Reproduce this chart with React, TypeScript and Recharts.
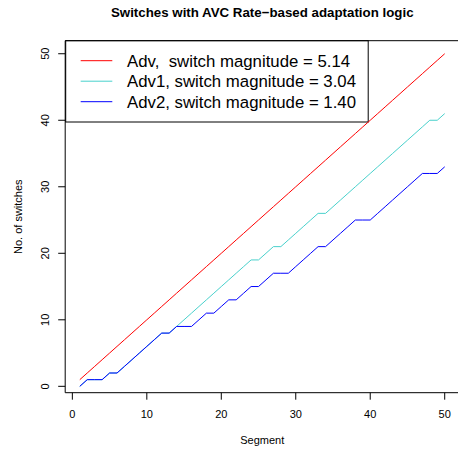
import React from 'react';
import { LineChart, Line, XAxis, YAxis, ReferenceArea, Customized } from 'recharts';

const segments = [1,2,3,4,5,6,7,8,9,10,11,12,13,14,15,16,17,18,19,20,21,22,23,24,25,26,27,28,29,30,31,32,33,34,35,36,37,38,39,40,41,42,43,44,45,46,47,48,49,50];
const adv = [1,2,3,4,5,6,7,8,9,10,11,12,13,14,15,16,17,18,19,20,21,22,23,24,25,26,27,28,29,30,31,32,33,34,35,36,37,38,39,40,41,42,43,44,45,46,47,48,49,50];
const adv1 = [0,1,1,1,2,2,3,4,5,6,7,8,8,9,10,11,12,13,14,15,16,17,18,19,19,20,21,21,22,23,24,25,26,26,27,28,29,30,31,32,33,34,35,36,37,38,39,40,40,41];
const adv2 = [0,1,1,1,2,2,3,4,5,6,7,8,8,9,9,9,10,11,11,12,13,13,14,15,15,16,17,17,17,18,19,20,21,21,22,23,24,25,25,25,26,27,28,29,30,31,32,32,32,33];
const xTicks = [0, 10, 20, 30, 40, 50];
const yTicks = [0, 10, 20, 30, 40, 50];
const legendLabels = ['Adv,  switch magnitude = 5.14', 'Adv1, switch magnitude = 3.04', 'Adv2, switch magnitude = 1.40'];
const colors = ['#FF0000', '#48D1CC', '#0000FF'];

const data = segments.map((s, i) => ({ x: s, adv: adv[i], adv1: adv1[i], adv2: adv2[i] }));

const FONT = '"Liberation Sans", Arial, Helvetica, sans-serif';
const DOMAIN: [number, number] = [-0.96, 51.96];

const YTick = (props: any) => {
  const { y, payload } = props;
  return (
    <text x={49.5} y={y} transform={`rotate(-90, 49.5, ${y})`} textAnchor="middle" fontSize={11} fontFamily={FONT} fill="#000">
      {payload.value}
    </text>
  );
};

const Overlay = () => (
  <g>
    <text x={262.25} y={17.3} textAnchor="middle" fontSize={13.3} fontWeight="bold" fontFamily={FONT} fill="#000">
      Switches with AVC Rate−based adaptation logic
    </text>
    <text x={262.25} y={444} textAnchor="middle" fontSize={11} fontFamily={FONT} fill="#000">Segment</text>
    <text x={22} y={216.7} transform="rotate(-90, 22, 216.7)" textAnchor="middle" fontSize={11} fontFamily={FONT} fill="#000">No. of switches</text>
    <rect x={65.7} y={40.7} width={302.5} height={81.3} fill="#fff" stroke="#000" strokeWidth={1} />
    {legendLabels.map((l, i) => {
      const ly = 60.7 + i * 20.5;
      return (
        <g key={l}>
          <line x1={80.7} x2={112.3} y1={ly} y2={ly} stroke={colors[i]} strokeWidth={1} />
          <text x={127} y={ly + 6.2} fontSize={16.8} fontFamily={FONT} fill="#000" style={{ whiteSpace: 'pre' }} xmlSpace="preserve">{l}</text>
        </g>
      );
    })}
  </g>
);

export default function App() {
  return (
    <div style={{ position: 'absolute', left: 0, top: 0, background: '#fff' }}>
      <LineChart width={458} height={453} data={data} margin={{ top: 40.7, right: -1.3, bottom: 0, left: 0 }}>
        <XAxis
          type="number"
          dataKey="x"
          domain={DOMAIN}
          ticks={xTicks}
          interval={0}
          axisLine={false}
          tickLine={{ stroke: '#000' }}
          tickSize={7}
          tickMargin={10}
          height={60.3}
          tick={{ fontSize: 11, fontFamily: FONT, fill: '#000' }}
          allowDataOverflow
        />
        <YAxis
          type="number"
          domain={DOMAIN}
          ticks={yTicks}
          interval={0}
          axisLine={false}
          tickLine={{ stroke: '#000' }}
          tickSize={7}
          width={65.2}
          tick={<YTick />}
          allowDataOverflow
        />
        <ReferenceArea x1={DOMAIN[0]} x2={DOMAIN[1]} y1={DOMAIN[0]} y2={DOMAIN[1]} fill="none" stroke="#000" strokeWidth={1} ifOverflow="visible" />
        <Line type="linear" dataKey="adv" stroke={colors[0]} strokeWidth={1} dot={false} isAnimationActive={false} />
        <Line type="linear" dataKey="adv1" stroke={colors[1]} strokeWidth={1} dot={false} isAnimationActive={false} />
        <Line type="linear" dataKey="adv2" stroke={colors[2]} strokeWidth={1} dot={false} isAnimationActive={false} />
        <Customized component={Overlay} />
      </LineChart>
    </div>
  );
}
